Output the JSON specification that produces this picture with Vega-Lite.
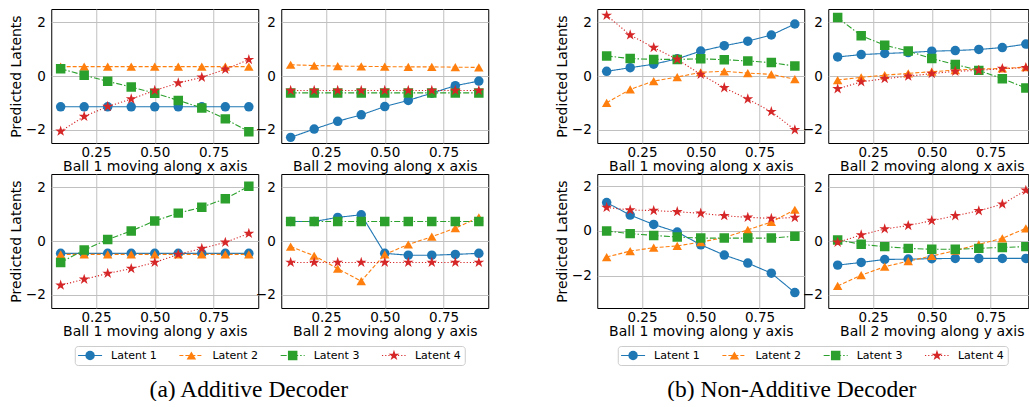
{
"$schema": "https://vega.github.io/schema/vega-lite/v6.json",
"background": "white",
"padding": {"left": 8, "top": 8, "right": 0, "bottom": 0},
"datasets": {
"leg": [{"latent":"Latent 1"},{"latent":"Latent 2"},{"latent":"Latent 3"},{"latent":"Latent 4"}],
"pts": [
{"panel":"A1x","latent":"Latent 1","x":0.1,"y":-1.15},{"panel":"A1x","latent":"Latent 1","x":0.2,"y":-1.15},{"panel":"A1x","latent":"Latent 1","x":0.3,"y":-1.15},{"panel":"A1x","latent":"Latent 1","x":0.4,"y":-1.15},{"panel":"A1x","latent":"Latent 1","x":0.5,"y":-1.15},{"panel":"A1x","latent":"Latent 1","x":0.6,"y":-1.15},{"panel":"A1x","latent":"Latent 1","x":0.7,"y":-1.15},{"panel":"A1x","latent":"Latent 1","x":0.8,"y":-1.15},{"panel":"A1x","latent":"Latent 1","x":0.9,"y":-1.15},
{"panel":"A1x","latent":"Latent 2","x":0.1,"y":0.35},{"panel":"A1x","latent":"Latent 2","x":0.2,"y":0.35},{"panel":"A1x","latent":"Latent 2","x":0.3,"y":0.35},{"panel":"A1x","latent":"Latent 2","x":0.4,"y":0.35},{"panel":"A1x","latent":"Latent 2","x":0.5,"y":0.35},{"panel":"A1x","latent":"Latent 2","x":0.6,"y":0.35},{"panel":"A1x","latent":"Latent 2","x":0.7,"y":0.35},{"panel":"A1x","latent":"Latent 2","x":0.8,"y":0.35},{"panel":"A1x","latent":"Latent 2","x":0.9,"y":0.35},
{"panel":"A1x","latent":"Latent 3","x":0.1,"y":0.27},{"panel":"A1x","latent":"Latent 3","x":0.2,"y":0.03},{"panel":"A1x","latent":"Latent 3","x":0.3,"y":-0.2},{"panel":"A1x","latent":"Latent 3","x":0.4,"y":-0.41},{"panel":"A1x","latent":"Latent 3","x":0.5,"y":-0.64},{"panel":"A1x","latent":"Latent 3","x":0.6,"y":-0.91},{"panel":"A1x","latent":"Latent 3","x":0.7,"y":-1.19},{"panel":"A1x","latent":"Latent 3","x":0.8,"y":-1.6},{"panel":"A1x","latent":"Latent 3","x":0.9,"y":-2.08},
{"panel":"A1x","latent":"Latent 4","x":0.1,"y":-2.06},{"panel":"A1x","latent":"Latent 4","x":0.2,"y":-1.51},{"panel":"A1x","latent":"Latent 4","x":0.3,"y":-1.14},{"panel":"A1x","latent":"Latent 4","x":0.4,"y":-0.86},{"panel":"A1x","latent":"Latent 4","x":0.5,"y":-0.54},{"panel":"A1x","latent":"Latent 4","x":0.6,"y":-0.26},{"panel":"A1x","latent":"Latent 4","x":0.7,"y":-0.05},{"panel":"A1x","latent":"Latent 4","x":0.8,"y":0.25},{"panel":"A1x","latent":"Latent 4","x":0.9,"y":0.61},

{"panel":"A2x","latent":"Latent 1","x":0.1,"y":-2.29},{"panel":"A2x","latent":"Latent 1","x":0.2,"y":-1.98},{"panel":"A2x","latent":"Latent 1","x":0.3,"y":-1.69},{"panel":"A2x","latent":"Latent 1","x":0.4,"y":-1.45},{"panel":"A2x","latent":"Latent 1","x":0.5,"y":-1.14},{"panel":"A2x","latent":"Latent 1","x":0.6,"y":-0.91},{"panel":"A2x","latent":"Latent 1","x":0.7,"y":-0.64},{"panel":"A2x","latent":"Latent 1","x":0.8,"y":-0.36},{"panel":"A2x","latent":"Latent 1","x":0.9,"y":-0.19},
{"panel":"A2x","latent":"Latent 2","x":0.1,"y":0.42},{"panel":"A2x","latent":"Latent 2","x":0.2,"y":0.39},{"panel":"A2x","latent":"Latent 2","x":0.3,"y":0.37},{"panel":"A2x","latent":"Latent 2","x":0.4,"y":0.36},{"panel":"A2x","latent":"Latent 2","x":0.5,"y":0.35},{"panel":"A2x","latent":"Latent 2","x":0.6,"y":0.34},{"panel":"A2x","latent":"Latent 2","x":0.7,"y":0.34},{"panel":"A2x","latent":"Latent 2","x":0.8,"y":0.33},{"panel":"A2x","latent":"Latent 2","x":0.9,"y":0.32},
{"panel":"A2x","latent":"Latent 3","x":0.1,"y":-0.63},{"panel":"A2x","latent":"Latent 3","x":0.2,"y":-0.63},{"panel":"A2x","latent":"Latent 3","x":0.3,"y":-0.63},{"panel":"A2x","latent":"Latent 3","x":0.4,"y":-0.63},{"panel":"A2x","latent":"Latent 3","x":0.5,"y":-0.63},{"panel":"A2x","latent":"Latent 3","x":0.6,"y":-0.63},{"panel":"A2x","latent":"Latent 3","x":0.7,"y":-0.63},{"panel":"A2x","latent":"Latent 3","x":0.8,"y":-0.63},{"panel":"A2x","latent":"Latent 3","x":0.9,"y":-0.63},
{"panel":"A2x","latent":"Latent 4","x":0.1,"y":-0.54},{"panel":"A2x","latent":"Latent 4","x":0.2,"y":-0.54},{"panel":"A2x","latent":"Latent 4","x":0.3,"y":-0.54},{"panel":"A2x","latent":"Latent 4","x":0.4,"y":-0.54},{"panel":"A2x","latent":"Latent 4","x":0.5,"y":-0.54},{"panel":"A2x","latent":"Latent 4","x":0.6,"y":-0.54},{"panel":"A2x","latent":"Latent 4","x":0.7,"y":-0.54},{"panel":"A2x","latent":"Latent 4","x":0.8,"y":-0.54},{"panel":"A2x","latent":"Latent 4","x":0.9,"y":-0.54},

{"panel":"A1y","latent":"Latent 1","x":0.1,"y":-0.46},{"panel":"A1y","latent":"Latent 1","x":0.2,"y":-0.46},{"panel":"A1y","latent":"Latent 1","x":0.3,"y":-0.46},{"panel":"A1y","latent":"Latent 1","x":0.4,"y":-0.46},{"panel":"A1y","latent":"Latent 1","x":0.5,"y":-0.46},{"panel":"A1y","latent":"Latent 1","x":0.6,"y":-0.46},{"panel":"A1y","latent":"Latent 1","x":0.7,"y":-0.46},{"panel":"A1y","latent":"Latent 1","x":0.8,"y":-0.46},{"panel":"A1y","latent":"Latent 1","x":0.9,"y":-0.46},
{"panel":"A1y","latent":"Latent 2","x":0.1,"y":-0.5},{"panel":"A1y","latent":"Latent 2","x":0.2,"y":-0.5},{"panel":"A1y","latent":"Latent 2","x":0.3,"y":-0.5},{"panel":"A1y","latent":"Latent 2","x":0.4,"y":-0.5},{"panel":"A1y","latent":"Latent 2","x":0.5,"y":-0.5},{"panel":"A1y","latent":"Latent 2","x":0.6,"y":-0.5},{"panel":"A1y","latent":"Latent 2","x":0.7,"y":-0.5},{"panel":"A1y","latent":"Latent 2","x":0.8,"y":-0.5},{"panel":"A1y","latent":"Latent 2","x":0.9,"y":-0.5},
{"panel":"A1y","latent":"Latent 3","x":0.1,"y":-0.8},{"panel":"A1y","latent":"Latent 3","x":0.2,"y":-0.34},{"panel":"A1y","latent":"Latent 3","x":0.3,"y":0.06},{"panel":"A1y","latent":"Latent 3","x":0.4,"y":0.375},{"panel":"A1y","latent":"Latent 3","x":0.5,"y":0.75},{"panel":"A1y","latent":"Latent 3","x":0.6,"y":1.04},{"panel":"A1y","latent":"Latent 3","x":0.7,"y":1.26},{"panel":"A1y","latent":"Latent 3","x":0.8,"y":1.58},{"panel":"A1y","latent":"Latent 3","x":0.9,"y":2.04},
{"panel":"A1y","latent":"Latent 4","x":0.1,"y":-1.65},{"panel":"A1y","latent":"Latent 4","x":0.2,"y":-1.43},{"panel":"A1y","latent":"Latent 4","x":0.3,"y":-1.21},{"panel":"A1y","latent":"Latent 4","x":0.4,"y":-1.03},{"panel":"A1y","latent":"Latent 4","x":0.5,"y":-0.8},{"panel":"A1y","latent":"Latent 4","x":0.6,"y":-0.5},{"panel":"A1y","latent":"Latent 4","x":0.7,"y":-0.28},{"panel":"A1y","latent":"Latent 4","x":0.8,"y":-0.05},{"panel":"A1y","latent":"Latent 4","x":0.9,"y":0.28},

{"panel":"A2y","latent":"Latent 1","x":0.1,"y":0.73},{"panel":"A2y","latent":"Latent 1","x":0.2,"y":0.73},{"panel":"A2y","latent":"Latent 1","x":0.3,"y":0.88},{"panel":"A2y","latent":"Latent 1","x":0.4,"y":0.98},{"panel":"A2y","latent":"Latent 1","x":0.5,"y":-0.46},{"panel":"A2y","latent":"Latent 1","x":0.6,"y":-0.53},{"panel":"A2y","latent":"Latent 1","x":0.7,"y":-0.53},{"panel":"A2y","latent":"Latent 1","x":0.8,"y":-0.5},{"panel":"A2y","latent":"Latent 1","x":0.9,"y":-0.46},
{"panel":"A2y","latent":"Latent 2","x":0.1,"y":-0.21},{"panel":"A2y","latent":"Latent 2","x":0.2,"y":-0.55},{"panel":"A2y","latent":"Latent 2","x":0.3,"y":-1.03},{"panel":"A2y","latent":"Latent 2","x":0.4,"y":-1.5},{"panel":"A2y","latent":"Latent 2","x":0.5,"y":-0.5},{"panel":"A2y","latent":"Latent 2","x":0.6,"y":-0.13},{"panel":"A2y","latent":"Latent 2","x":0.7,"y":0.16},{"panel":"A2y","latent":"Latent 2","x":0.8,"y":0.48},{"panel":"A2y","latent":"Latent 2","x":0.9,"y":0.88},
{"panel":"A2y","latent":"Latent 3","x":0.1,"y":0.73},{"panel":"A2y","latent":"Latent 3","x":0.2,"y":0.73},{"panel":"A2y","latent":"Latent 3","x":0.3,"y":0.73},{"panel":"A2y","latent":"Latent 3","x":0.4,"y":0.73},{"panel":"A2y","latent":"Latent 3","x":0.5,"y":0.73},{"panel":"A2y","latent":"Latent 3","x":0.6,"y":0.73},{"panel":"A2y","latent":"Latent 3","x":0.7,"y":0.73},{"panel":"A2y","latent":"Latent 3","x":0.8,"y":0.73},{"panel":"A2y","latent":"Latent 3","x":0.9,"y":0.73},
{"panel":"A2y","latent":"Latent 4","x":0.1,"y":-0.8},{"panel":"A2y","latent":"Latent 4","x":0.2,"y":-0.8},{"panel":"A2y","latent":"Latent 4","x":0.3,"y":-0.8},{"panel":"A2y","latent":"Latent 4","x":0.4,"y":-0.8},{"panel":"A2y","latent":"Latent 4","x":0.5,"y":-0.8},{"panel":"A2y","latent":"Latent 4","x":0.6,"y":-0.8},{"panel":"A2y","latent":"Latent 4","x":0.7,"y":-0.8},{"panel":"A2y","latent":"Latent 4","x":0.8,"y":-0.8},{"panel":"A2y","latent":"Latent 4","x":0.9,"y":-0.8},

{"panel":"N1x","latent":"Latent 1","x":0.1,"y":0.175},{"panel":"N1x","latent":"Latent 1","x":0.2,"y":0.31},{"panel":"N1x","latent":"Latent 1","x":0.3,"y":0.44},{"panel":"N1x","latent":"Latent 1","x":0.4,"y":0.64},{"panel":"N1x","latent":"Latent 1","x":0.5,"y":0.93},{"panel":"N1x","latent":"Latent 1","x":0.6,"y":1.13},{"panel":"N1x","latent":"Latent 1","x":0.7,"y":1.3},{"panel":"N1x","latent":"Latent 1","x":0.8,"y":1.53},{"panel":"N1x","latent":"Latent 1","x":0.9,"y":1.94},
{"panel":"N1x","latent":"Latent 2","x":0.1,"y":-1.0},{"panel":"N1x","latent":"Latent 2","x":0.2,"y":-0.5},{"panel":"N1x","latent":"Latent 2","x":0.3,"y":-0.19},{"panel":"N1x","latent":"Latent 2","x":0.4,"y":-0.04},{"panel":"N1x","latent":"Latent 2","x":0.5,"y":0.14},{"panel":"N1x","latent":"Latent 2","x":0.6,"y":0.175},{"panel":"N1x","latent":"Latent 2","x":0.7,"y":0.11},{"panel":"N1x","latent":"Latent 2","x":0.8,"y":0.06},{"panel":"N1x","latent":"Latent 2","x":0.9,"y":-0.12},
{"panel":"N1x","latent":"Latent 3","x":0.1,"y":0.75},{"panel":"N1x","latent":"Latent 3","x":0.2,"y":0.65},{"panel":"N1x","latent":"Latent 3","x":0.3,"y":0.62},{"panel":"N1x","latent":"Latent 3","x":0.4,"y":0.62},{"panel":"N1x","latent":"Latent 3","x":0.5,"y":0.64},{"panel":"N1x","latent":"Latent 3","x":0.6,"y":0.61},{"panel":"N1x","latent":"Latent 3","x":0.7,"y":0.56},{"panel":"N1x","latent":"Latent 3","x":0.8,"y":0.5},{"panel":"N1x","latent":"Latent 3","x":0.9,"y":0.37},
{"panel":"N1x","latent":"Latent 4","x":0.1,"y":2.26},{"panel":"N1x","latent":"Latent 4","x":0.2,"y":1.53},{"panel":"N1x","latent":"Latent 4","x":0.3,"y":1.06},{"panel":"N1x","latent":"Latent 4","x":0.4,"y":0.62},{"panel":"N1x","latent":"Latent 4","x":0.5,"y":0.06},{"panel":"N1x","latent":"Latent 4","x":0.6,"y":-0.44},{"panel":"N1x","latent":"Latent 4","x":0.7,"y":-0.86},{"panel":"N1x","latent":"Latent 4","x":0.8,"y":-1.33},{"panel":"N1x","latent":"Latent 4","x":0.9,"y":-2.01},

{"panel":"N2x","latent":"Latent 1","x":0.1,"y":0.71},{"panel":"N2x","latent":"Latent 1","x":0.2,"y":0.8},{"panel":"N2x","latent":"Latent 1","x":0.3,"y":0.84},{"panel":"N2x","latent":"Latent 1","x":0.4,"y":0.875},{"panel":"N2x","latent":"Latent 1","x":0.5,"y":0.925},{"panel":"N2x","latent":"Latent 1","x":0.6,"y":0.95},{"panel":"N2x","latent":"Latent 1","x":0.7,"y":0.99},{"panel":"N2x","latent":"Latent 1","x":0.8,"y":1.06},{"panel":"N2x","latent":"Latent 1","x":0.9,"y":1.19},
{"panel":"N2x","latent":"Latent 2","x":0.1,"y":-0.15},{"panel":"N2x","latent":"Latent 2","x":0.2,"y":-0.05},{"panel":"N2x","latent":"Latent 2","x":0.3,"y":0.03},{"panel":"N2x","latent":"Latent 2","x":0.4,"y":0.1},{"panel":"N2x","latent":"Latent 2","x":0.5,"y":0.16},{"panel":"N2x","latent":"Latent 2","x":0.6,"y":0.22},{"panel":"N2x","latent":"Latent 2","x":0.7,"y":0.26},{"panel":"N2x","latent":"Latent 2","x":0.8,"y":0.28},{"panel":"N2x","latent":"Latent 2","x":0.9,"y":0.33},
{"panel":"N2x","latent":"Latent 3","x":0.1,"y":2.18},{"panel":"N2x","latent":"Latent 3","x":0.2,"y":1.5},{"panel":"N2x","latent":"Latent 3","x":0.3,"y":1.15},{"panel":"N2x","latent":"Latent 3","x":0.4,"y":0.93},{"panel":"N2x","latent":"Latent 3","x":0.5,"y":0.65},{"panel":"N2x","latent":"Latent 3","x":0.6,"y":0.43},{"panel":"N2x","latent":"Latent 3","x":0.7,"y":0.21},{"panel":"N2x","latent":"Latent 3","x":0.8,"y":-0.1},{"panel":"N2x","latent":"Latent 3","x":0.9,"y":-0.45},
{"panel":"N2x","latent":"Latent 4","x":0.1,"y":-0.48},{"panel":"N2x","latent":"Latent 4","x":0.2,"y":-0.22},{"panel":"N2x","latent":"Latent 4","x":0.3,"y":-0.1},{"panel":"N2x","latent":"Latent 4","x":0.4,"y":-0.01},{"panel":"N2x","latent":"Latent 4","x":0.5,"y":0.09},{"panel":"N2x","latent":"Latent 4","x":0.6,"y":0.175},{"panel":"N2x","latent":"Latent 4","x":0.7,"y":0.21},{"panel":"N2x","latent":"Latent 4","x":0.8,"y":0.275},{"panel":"N2x","latent":"Latent 4","x":0.9,"y":0.31},

{"panel":"N1y","latent":"Latent 1","x":0.1,"y":1.27},{"panel":"N1y","latent":"Latent 1","x":0.2,"y":0.71},{"panel":"N1y","latent":"Latent 1","x":0.3,"y":0.29},{"panel":"N1y","latent":"Latent 1","x":0.4,"y":-0.05},{"panel":"N1y","latent":"Latent 1","x":0.5,"y":-0.62},{"panel":"N1y","latent":"Latent 1","x":0.6,"y":-1.08},{"panel":"N1y","latent":"Latent 1","x":0.7,"y":-1.44},{"panel":"N1y","latent":"Latent 1","x":0.8,"y":-1.89},{"panel":"N1y","latent":"Latent 1","x":0.9,"y":-2.76},
{"panel":"N1y","latent":"Latent 2","x":0.1,"y":-1.17},{"panel":"N1y","latent":"Latent 2","x":0.2,"y":-0.9},{"panel":"N1y","latent":"Latent 2","x":0.3,"y":-0.75},{"panel":"N1y","latent":"Latent 2","x":0.4,"y":-0.67},{"panel":"N1y","latent":"Latent 2","x":0.5,"y":-0.5},{"panel":"N1y","latent":"Latent 2","x":0.6,"y":-0.3},{"panel":"N1y","latent":"Latent 2","x":0.7,"y":0.05},{"panel":"N1y","latent":"Latent 2","x":0.8,"y":0.4},{"panel":"N1y","latent":"Latent 2","x":0.9,"y":0.95},
{"panel":"N1y","latent":"Latent 3","x":0.1,"y":0.0},{"panel":"N1y","latent":"Latent 3","x":0.2,"y":-0.12},{"panel":"N1y","latent":"Latent 3","x":0.3,"y":-0.2},{"panel":"N1y","latent":"Latent 3","x":0.4,"y":-0.27},{"panel":"N1y","latent":"Latent 3","x":0.5,"y":-0.32},{"panel":"N1y","latent":"Latent 3","x":0.6,"y":-0.32},{"panel":"N1y","latent":"Latent 3","x":0.7,"y":-0.32},{"panel":"N1y","latent":"Latent 3","x":0.8,"y":-0.32},{"panel":"N1y","latent":"Latent 3","x":0.9,"y":-0.24},
{"panel":"N1y","latent":"Latent 4","x":0.1,"y":1.05},{"panel":"N1y","latent":"Latent 4","x":0.2,"y":0.94},{"panel":"N1y","latent":"Latent 4","x":0.3,"y":0.91},{"panel":"N1y","latent":"Latent 4","x":0.4,"y":0.86},{"panel":"N1y","latent":"Latent 4","x":0.5,"y":0.79},{"panel":"N1y","latent":"Latent 4","x":0.6,"y":0.68},{"panel":"N1y","latent":"Latent 4","x":0.7,"y":0.61},{"panel":"N1y","latent":"Latent 4","x":0.8,"y":0.56},{"panel":"N1y","latent":"Latent 4","x":0.9,"y":0.6},

{"panel":"N2y","latent":"Latent 1","x":0.1,"y":-0.9},{"panel":"N2y","latent":"Latent 1","x":0.2,"y":-0.8},{"panel":"N2y","latent":"Latent 1","x":0.3,"y":-0.69},{"panel":"N2y","latent":"Latent 1","x":0.4,"y":-0.675},{"panel":"N2y","latent":"Latent 1","x":0.5,"y":-0.66},{"panel":"N2y","latent":"Latent 1","x":0.6,"y":-0.65},{"panel":"N2y","latent":"Latent 1","x":0.7,"y":-0.65},{"panel":"N2y","latent":"Latent 1","x":0.8,"y":-0.65},{"panel":"N2y","latent":"Latent 1","x":0.9,"y":-0.65},
{"panel":"N2y","latent":"Latent 2","x":0.1,"y":-1.675},{"panel":"N2y","latent":"Latent 2","x":0.2,"y":-1.275},{"panel":"N2y","latent":"Latent 2","x":0.3,"y":-0.96},{"panel":"N2y","latent":"Latent 2","x":0.4,"y":-0.75},{"panel":"N2y","latent":"Latent 2","x":0.5,"y":-0.56},{"panel":"N2y","latent":"Latent 2","x":0.6,"y":-0.36},{"panel":"N2y","latent":"Latent 2","x":0.7,"y":-0.125},{"panel":"N2y","latent":"Latent 2","x":0.8,"y":0.1},{"panel":"N2y","latent":"Latent 2","x":0.9,"y":0.475},
{"panel":"N2y","latent":"Latent 3","x":0.1,"y":0.04},{"panel":"N2y","latent":"Latent 3","x":0.2,"y":-0.125},{"panel":"N2y","latent":"Latent 3","x":0.3,"y":-0.21},{"panel":"N2y","latent":"Latent 3","x":0.4,"y":-0.275},{"panel":"N2y","latent":"Latent 3","x":0.5,"y":-0.31},{"panel":"N2y","latent":"Latent 3","x":0.6,"y":-0.31},{"panel":"N2y","latent":"Latent 3","x":0.7,"y":-0.275},{"panel":"N2y","latent":"Latent 3","x":0.8,"y":-0.24},{"panel":"N2y","latent":"Latent 3","x":0.9,"y":-0.21},
{"panel":"N2y","latent":"Latent 4","x":0.1,"y":-0.05},{"panel":"N2y","latent":"Latent 4","x":0.2,"y":0.225},{"panel":"N2y","latent":"Latent 4","x":0.3,"y":0.45},{"panel":"N2y","latent":"Latent 4","x":0.4,"y":0.575},{"panel":"N2y","latent":"Latent 4","x":0.5,"y":0.76},{"panel":"N2y","latent":"Latent 4","x":0.6,"y":0.94},{"panel":"N2y","latent":"Latent 4","x":0.7,"y":1.125},{"panel":"N2y","latent":"Latent 4","x":0.8,"y":1.375},{"panel":"N2y","latent":"Latent 4","x":0.9,"y":1.89}
]
},
"data": {"name": "pts"},
"spacing": 65,
"resolve": {"scale": {"x": "independent", "y": "independent"}},
"hconcat": [
{
"vconcat": [
{"columns": 2, "align": "each", "spacing": {"row": -2, "column": -5}, "resolve": {"scale": {"x": "independent", "y": "independent"}},
"concat": [
{"width": 207, "height": 134, "transform": [{"filter": "datum.panel === 'A1x'"}],
"encoding": {"x": {"field": "x", "type": "quantitative", "scale": {"domain": [0.06, 0.94], "nice": false, "zero": false}, "axis": {"title": "Ball 1 moving along x axis", "values": [0.25, 0.5, 0.75], "format": ".2f"}},
"y": {"field": "y", "type": "quantitative", "scale": {"domain": [-2.5, 2.5], "nice": false, "zero": false}, "axis": {"title": "Predicted Latents", "values": [-2, 0, 2]}},
"color": {"field": "latent", "type": "nominal", "scale": {"domain": ["Latent 1","Latent 2","Latent 3","Latent 4"], "range": ["#1f77b4","#ff7f0e","#2ca02c","#d62728"]}, "legend": null}},
"layer": [
{"mark": {"type": "line", "strokeWidth": 1.1, "clip": true}, "encoding": {"strokeDash": {"field": "latent", "type": "nominal", "scale": {"domain": ["Latent 1","Latent 2","Latent 3","Latent 4"], "range": [[1,0],[4,2],[6,2,1.5,2],[1.2,2]]}, "legend": null}}},
{"mark": {"type": "point", "filled": true, "size": 90, "opacity": 1, "clip": true}, "encoding": {"shape": {"field": "latent", "type": "nominal", "scale": {"domain": ["Latent 1","Latent 2","Latent 3","Latent 4"], "range": ["circle","triangle-up","square","M0,-1.2L0.27,-0.372L1.141,-0.371L0.4375,0.142L0.705,0.971L0,0.46L-0.705,0.971L-0.4375,0.142L-1.141,-0.371L-0.27,-0.372Z"]}, "legend": null}}}
]},
{"width": 207, "height": 134, "transform": [{"filter": "datum.panel === 'A2x'"}],
"encoding": {"x": {"field": "x", "type": "quantitative", "scale": {"domain": [0.06, 0.94], "nice": false, "zero": false}, "axis": {"title": "Ball 2 moving along x axis", "values": [0.25, 0.5, 0.75], "format": ".2f"}},
"y": {"field": "y", "type": "quantitative", "scale": {"domain": [-2.5, 2.5], "nice": false, "zero": false}, "axis": {"title": null, "values": [-2, 0, 2]}},
"color": {"field": "latent", "type": "nominal", "scale": {"domain": ["Latent 1","Latent 2","Latent 3","Latent 4"], "range": ["#1f77b4","#ff7f0e","#2ca02c","#d62728"]}, "legend": null}},
"layer": [
{"mark": {"type": "line", "strokeWidth": 1.1, "clip": true}, "encoding": {"strokeDash": {"field": "latent", "type": "nominal", "scale": {"domain": ["Latent 1","Latent 2","Latent 3","Latent 4"], "range": [[1,0],[4,2],[6,2,1.5,2],[1.2,2]]}, "legend": null}}},
{"mark": {"type": "point", "filled": true, "size": 90, "opacity": 1, "clip": true}, "encoding": {"shape": {"field": "latent", "type": "nominal", "scale": {"domain": ["Latent 1","Latent 2","Latent 3","Latent 4"], "range": ["circle","triangle-up","square","M0,-1.2L0.27,-0.372L1.141,-0.371L0.4375,0.142L0.705,0.971L0,0.46L-0.705,0.971L-0.4375,0.142L-1.141,-0.371L-0.27,-0.372Z"]}, "legend": null}}}
]},
{"width": 207, "height": 134, "transform": [{"filter": "datum.panel === 'A1y'"}],
"encoding": {"x": {"field": "x", "type": "quantitative", "scale": {"domain": [0.06, 0.94], "nice": false, "zero": false}, "axis": {"title": "Ball 1 moving along y axis", "values": [0.25, 0.5, 0.75], "format": ".2f"}},
"y": {"field": "y", "type": "quantitative", "scale": {"domain": [-2.5, 2.5], "nice": false, "zero": false}, "axis": {"title": "Predicted Latents", "values": [-2, 0, 2]}},
"color": {"field": "latent", "type": "nominal", "scale": {"domain": ["Latent 1","Latent 2","Latent 3","Latent 4"], "range": ["#1f77b4","#ff7f0e","#2ca02c","#d62728"]}, "legend": null}},
"layer": [
{"mark": {"type": "line", "strokeWidth": 1.1, "clip": true}, "encoding": {"strokeDash": {"field": "latent", "type": "nominal", "scale": {"domain": ["Latent 1","Latent 2","Latent 3","Latent 4"], "range": [[1,0],[4,2],[6,2,1.5,2],[1.2,2]]}, "legend": null}}},
{"mark": {"type": "point", "filled": true, "size": 90, "opacity": 1, "clip": true}, "encoding": {"shape": {"field": "latent", "type": "nominal", "scale": {"domain": ["Latent 1","Latent 2","Latent 3","Latent 4"], "range": ["circle","triangle-up","square","M0,-1.2L0.27,-0.372L1.141,-0.371L0.4375,0.142L0.705,0.971L0,0.46L-0.705,0.971L-0.4375,0.142L-1.141,-0.371L-0.27,-0.372Z"]}, "legend": null}}}
]},
{"width": 207, "height": 134, "transform": [{"filter": "datum.panel === 'A2y'"}],
"encoding": {"x": {"field": "x", "type": "quantitative", "scale": {"domain": [0.06, 0.94], "nice": false, "zero": false}, "axis": {"title": "Ball 2 moving along y axis", "values": [0.25, 0.5, 0.75], "format": ".2f"}},
"y": {"field": "y", "type": "quantitative", "scale": {"domain": [-2.5, 2.5], "nice": false, "zero": false}, "axis": {"title": null, "values": [-2, 0, 2]}},
"color": {"field": "latent", "type": "nominal", "scale": {"domain": ["Latent 1","Latent 2","Latent 3","Latent 4"], "range": ["#1f77b4","#ff7f0e","#2ca02c","#d62728"]}, "legend": null}},
"layer": [
{"mark": {"type": "line", "strokeWidth": 1.1, "clip": true}, "encoding": {"strokeDash": {"field": "latent", "type": "nominal", "scale": {"domain": ["Latent 1","Latent 2","Latent 3","Latent 4"], "range": [[1,0],[4,2],[6,2,1.5,2],[1.2,2]]}, "legend": null}}},
{"mark": {"type": "point", "filled": true, "size": 90, "opacity": 1, "clip": true}, "encoding": {"shape": {"field": "latent", "type": "nominal", "scale": {"domain": ["Latent 1","Latent 2","Latent 3","Latent 4"], "range": ["circle","triangle-up","square","M0,-1.2L0.27,-0.372L1.141,-0.371L0.4375,0.142L0.705,0.971L0,0.46L-0.705,0.971L-0.4375,0.142L-1.141,-0.371L-0.27,-0.372Z"]}, "legend": null}}}
]}
]},
{"data": {"name": "leg"}, "width": 390, "height": 19,
"view": {"stroke": "#cccccc", "strokeWidth": 1, "cornerRadius": 3, "fill": "white"},
"encoding": {"x": {"field": "latent", "type": "nominal", "scale": {"type": "point", "padding": 0.425, "align": 0.178}, "axis": null}},
"layer": [
{"mark": {"type": "point", "shape": "stroke", "filled": false, "size": 576, "strokeWidth": 1.1, "opacity": 1},
"encoding": {"color": {"field": "latent", "type": "nominal", "scale": {"domain": ["Latent 1","Latent 2","Latent 3","Latent 4"], "range": ["#1f77b4","#ff7f0e","#2ca02c","#d62728"]}, "legend": null},
"strokeDash": {"field": "latent", "type": "nominal", "scale": {"domain": ["Latent 1","Latent 2","Latent 3","Latent 4"], "range": [[1,0],[4,2],[6,2,1.5,2],[1.2,2]]}, "legend": null}}},
{"mark": {"type": "point", "filled": true, "size": 90, "opacity": 1},
"encoding": {"color": {"field": "latent", "type": "nominal", "scale": {"domain": ["Latent 1","Latent 2","Latent 3","Latent 4"], "range": ["#1f77b4","#ff7f0e","#2ca02c","#d62728"]}, "legend": null},
"shape": {"field": "latent", "type": "nominal", "scale": {"domain": ["Latent 1","Latent 2","Latent 3","Latent 4"], "range": ["circle","triangle-up","square","M0,-1.2L0.27,-0.372L1.141,-0.371L0.4375,0.142L0.705,0.971L0,0.46L-0.705,0.971L-0.4375,0.142L-1.141,-0.371L-0.27,-0.372Z"]}, "legend": null}}},
{"mark": {"type": "text", "align": "left", "baseline": "middle", "dx": 21, "fontSize": 11, "font": "DejaVu Sans", "color": "#000"},
"encoding": {"text": {"field": "latent", "type": "nominal"}}}
]}
],
"spacing": 6,
"center": true,
"resolve": {"scale": {"x": "independent", "y": "independent"}},
"title": {"text": "(a) Additive Decoder", "orient": "bottom", "anchor": "middle", "font": "Liberation Serif", "fontSize": 23.5, "fontWeight": "normal", "color": "#000", "offset": 12}
},
{
"vconcat": [
{"columns": 2, "align": "each", "spacing": {"row": -2, "column": -4}, "resolve": {"scale": {"x": "independent", "y": "independent"}},
"concat": [
{"width": 207, "height": 134, "transform": [{"filter": "datum.panel === 'N1x'"}],
"encoding": {"x": {"field": "x", "type": "quantitative", "scale": {"domain": [0.06, 0.94], "nice": false, "zero": false}, "axis": {"title": "Ball 1 moving along x axis", "values": [0.25, 0.5, 0.75], "format": ".2f"}},
"y": {"field": "y", "type": "quantitative", "scale": {"domain": [-2.5, 2.5], "nice": false, "zero": false}, "axis": {"title": "Predicted Latents", "values": [-2, 0, 2]}},
"color": {"field": "latent", "type": "nominal", "scale": {"domain": ["Latent 1","Latent 2","Latent 3","Latent 4"], "range": ["#1f77b4","#ff7f0e","#2ca02c","#d62728"]}, "legend": null}},
"layer": [
{"mark": {"type": "line", "strokeWidth": 1.1, "clip": true}, "encoding": {"strokeDash": {"field": "latent", "type": "nominal", "scale": {"domain": ["Latent 1","Latent 2","Latent 3","Latent 4"], "range": [[1,0],[4,2],[6,2,1.5,2],[1.2,2]]}, "legend": null}}},
{"mark": {"type": "point", "filled": true, "size": 90, "opacity": 1, "clip": true}, "encoding": {"shape": {"field": "latent", "type": "nominal", "scale": {"domain": ["Latent 1","Latent 2","Latent 3","Latent 4"], "range": ["circle","triangle-up","square","M0,-1.2L0.27,-0.372L1.141,-0.371L0.4375,0.142L0.705,0.971L0,0.46L-0.705,0.971L-0.4375,0.142L-1.141,-0.371L-0.27,-0.372Z"]}, "legend": null}}}
]},
{"width": 200, "height": 134, "transform": [{"filter": "datum.panel === 'N2x'"}],
"encoding": {"x": {"field": "x", "type": "quantitative", "scale": {"domain": [0.06, 0.9102], "nice": false, "zero": false}, "axis": {"title": "Ball 2 moving along x axis", "titleX": 103.5, "values": [0.25, 0.5, 0.75], "format": ".2f"}},
"y": {"field": "y", "type": "quantitative", "scale": {"domain": [-2.5, 2.5], "nice": false, "zero": false}, "axis": {"title": null, "values": [-2, 0, 2]}},
"color": {"field": "latent", "type": "nominal", "scale": {"domain": ["Latent 1","Latent 2","Latent 3","Latent 4"], "range": ["#1f77b4","#ff7f0e","#2ca02c","#d62728"]}, "legend": null}},
"layer": [
{"mark": {"type": "line", "strokeWidth": 1.1, "clip": true}, "encoding": {"strokeDash": {"field": "latent", "type": "nominal", "scale": {"domain": ["Latent 1","Latent 2","Latent 3","Latent 4"], "range": [[1,0],[4,2],[6,2,1.5,2],[1.2,2]]}, "legend": null}}},
{"mark": {"type": "point", "filled": true, "size": 90, "opacity": 1, "clip": true}, "encoding": {"shape": {"field": "latent", "type": "nominal", "scale": {"domain": ["Latent 1","Latent 2","Latent 3","Latent 4"], "range": ["circle","triangle-up","square","M0,-1.2L0.27,-0.372L1.141,-0.371L0.4375,0.142L0.705,0.971L0,0.46L-0.705,0.971L-0.4375,0.142L-1.141,-0.371L-0.27,-0.372Z"]}, "legend": null}}}
]},
{"width": 207, "height": 134, "transform": [{"filter": "datum.panel === 'N1y'"}],
"encoding": {"x": {"field": "x", "type": "quantitative", "scale": {"domain": [0.06, 0.94], "nice": false, "zero": false}, "axis": {"title": "Ball 1 moving along y axis", "values": [0.25, 0.5, 0.75], "format": ".2f"}},
"y": {"field": "y", "type": "quantitative", "scale": {"domain": [-3.45, 2.55], "nice": false, "zero": false}, "axis": {"title": "Predicted Latents", "values": [-2, 0, 2]}},
"color": {"field": "latent", "type": "nominal", "scale": {"domain": ["Latent 1","Latent 2","Latent 3","Latent 4"], "range": ["#1f77b4","#ff7f0e","#2ca02c","#d62728"]}, "legend": null}},
"layer": [
{"mark": {"type": "line", "strokeWidth": 1.1, "clip": true}, "encoding": {"strokeDash": {"field": "latent", "type": "nominal", "scale": {"domain": ["Latent 1","Latent 2","Latent 3","Latent 4"], "range": [[1,0],[4,2],[6,2,1.5,2],[1.2,2]]}, "legend": null}}},
{"mark": {"type": "point", "filled": true, "size": 90, "opacity": 1, "clip": true}, "encoding": {"shape": {"field": "latent", "type": "nominal", "scale": {"domain": ["Latent 1","Latent 2","Latent 3","Latent 4"], "range": ["circle","triangle-up","square","M0,-1.2L0.27,-0.372L1.141,-0.371L0.4375,0.142L0.705,0.971L0,0.46L-0.705,0.971L-0.4375,0.142L-1.141,-0.371L-0.27,-0.372Z"]}, "legend": null}}}
]},
{"width": 200, "height": 134, "transform": [{"filter": "datum.panel === 'N2y'"}],
"encoding": {"x": {"field": "x", "type": "quantitative", "scale": {"domain": [0.06, 0.9102], "nice": false, "zero": false}, "axis": {"title": "Ball 2 moving along y axis", "titleX": 103.5, "values": [0.25, 0.5, 0.75], "format": ".2f"}},
"y": {"field": "y", "type": "quantitative", "scale": {"domain": [-2.5, 2.5], "nice": false, "zero": false}, "axis": {"title": null, "values": [-2, 0, 2]}},
"color": {"field": "latent", "type": "nominal", "scale": {"domain": ["Latent 1","Latent 2","Latent 3","Latent 4"], "range": ["#1f77b4","#ff7f0e","#2ca02c","#d62728"]}, "legend": null}},
"layer": [
{"mark": {"type": "line", "strokeWidth": 1.1, "clip": true}, "encoding": {"strokeDash": {"field": "latent", "type": "nominal", "scale": {"domain": ["Latent 1","Latent 2","Latent 3","Latent 4"], "range": [[1,0],[4,2],[6,2,1.5,2],[1.2,2]]}, "legend": null}}},
{"mark": {"type": "point", "filled": true, "size": 90, "opacity": 1, "clip": true}, "encoding": {"shape": {"field": "latent", "type": "nominal", "scale": {"domain": ["Latent 1","Latent 2","Latent 3","Latent 4"], "range": ["circle","triangle-up","square","M0,-1.2L0.27,-0.372L1.141,-0.371L0.4375,0.142L0.705,0.971L0,0.46L-0.705,0.971L-0.4375,0.142L-1.141,-0.371L-0.27,-0.372Z"]}, "legend": null}}}
]}
]},
{"data": {"name": "leg"}, "width": 390, "height": 19,
"view": {"stroke": "#cccccc", "strokeWidth": 1, "cornerRadius": 3, "fill": "white"},
"encoding": {"x": {"field": "latent", "type": "nominal", "scale": {"type": "point", "padding": 0.425, "align": 0.178}, "axis": null}},
"layer": [
{"mark": {"type": "point", "shape": "stroke", "filled": false, "size": 576, "strokeWidth": 1.1, "opacity": 1},
"encoding": {"color": {"field": "latent", "type": "nominal", "scale": {"domain": ["Latent 1","Latent 2","Latent 3","Latent 4"], "range": ["#1f77b4","#ff7f0e","#2ca02c","#d62728"]}, "legend": null},
"strokeDash": {"field": "latent", "type": "nominal", "scale": {"domain": ["Latent 1","Latent 2","Latent 3","Latent 4"], "range": [[1,0],[4,2],[6,2,1.5,2],[1.2,2]]}, "legend": null}}},
{"mark": {"type": "point", "filled": true, "size": 90, "opacity": 1},
"encoding": {"color": {"field": "latent", "type": "nominal", "scale": {"domain": ["Latent 1","Latent 2","Latent 3","Latent 4"], "range": ["#1f77b4","#ff7f0e","#2ca02c","#d62728"]}, "legend": null},
"shape": {"field": "latent", "type": "nominal", "scale": {"domain": ["Latent 1","Latent 2","Latent 3","Latent 4"], "range": ["circle","triangle-up","square","M0,-1.2L0.27,-0.372L1.141,-0.371L0.4375,0.142L0.705,0.971L0,0.46L-0.705,0.971L-0.4375,0.142L-1.141,-0.371L-0.27,-0.372Z"]}, "legend": null}}},
{"mark": {"type": "text", "align": "left", "baseline": "middle", "dx": 21, "fontSize": 11, "font": "DejaVu Sans", "color": "#000"},
"encoding": {"text": {"field": "latent", "type": "nominal"}}}
]}
],
"spacing": 6,
"center": true,
"resolve": {"scale": {"x": "independent", "y": "independent"}},
"title": {"text": "(b) Non-Additive Decoder", "orient": "bottom", "anchor": "middle", "font": "Liberation Serif", "fontSize": 23.5, "fontWeight": "normal", "color": "#000", "offset": 12}
}
],
"config": {
"font": "DejaVu Sans",
"view": {"stroke": "#000", "strokeWidth": 1},
"axis": {"domain": false, "ticks": false, "tickSize": 0, "grid": true, "gridColor": "#c0c0c0", "gridWidth": 1, "labelFont": "DejaVu Sans", "labelFontSize": 13.5, "labelColor": "#000", "titleFont": "DejaVu Sans", "titleFontSize": 14, "titleFontWeight": "normal", "titleColor": "#000"},
"axisX": {"labelPadding": 2, "titlePadding": 1},
"axisY": {"labelPadding": 6, "titlePadding": 2}
}
}
